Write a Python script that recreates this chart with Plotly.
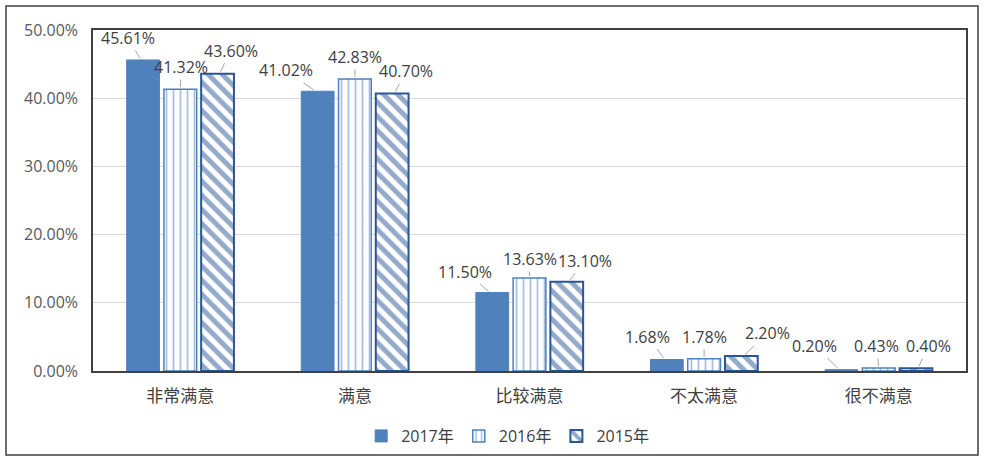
import plotly.graph_objects as go

categorias = ["非常满意", "满意", "比较满意", "不太满意", "很不满意"]
anios = ["2017年", "2016年", "2015年"]
v2017 = [0.4561, 0.4102, 0.1150, 0.0168, 0.0020]
v2016 = [0.4132, 0.4283, 0.1363, 0.0178, 0.0043]
v2015 = [0.4360, 0.4070, 0.1310, 0.0220, 0.0040]
ticks = [0, 0.1, 0.2, 0.3, 0.4, 0.5]

FUENTE = "Open Sans, Noto Sans CJK SC, sans-serif"
AZUL = "#4f81bd"
AZUL_OSC = "#2a5597"

fig = go.Figure()

fig.add_trace(go.Bar(
    x=categorias, y=v2017, name=anios[0],
    marker=dict(color=AZUL, line=dict(color=AZUL, width=1)),
))
fig.add_trace(go.Bar(
    x=categorias, y=v2016, name=anios[1],
    marker=dict(color="white", line=dict(color=AZUL, width=1.5),
                pattern=dict(shape="|", fgcolor=AZUL, bgcolor="white",
                             size=7, solidity=0.25)),
))
fig.add_trace(go.Bar(
    x=categorias, y=v2015, name=anios[2],
    marker=dict(color="white", line=dict(color=AZUL_OSC, width=2),
                pattern=dict(shape="\\", fgcolor=AZUL_OSC, bgcolor="white",
                             size=10, solidity=0.5)),
))

# desplazamientos de las etiquetas (ax, ay) en pixeles
desp = [
    [(-13, -22), (1, -22), (11, -23)],
    [(-30, -21), (0, -22), (12, -22)],
    [(-25, -21), (0, -19), (16, -21)],
    [(-17, -23), (0, -22), (24, -23)],
    [(-25, -24), (-2, -22), (10, -22)],
]
series = [v2017, v2016, v2015]
for i, cat in enumerate(categorias):
    for j, vals in enumerate(series):
        ax, ay = desp[i][j]
        fig.add_annotation(
            x=cat, y=vals[i], xref="x", yref="y",
            xshift=(j - 1) * 39.3,
            text=f"{vals[i] * 100:.2f}%",
            showarrow=True, arrowhead=0, arrowwidth=1,
            arrowcolor="#a6a6a6", ax=ax, ay=ay, standoff=2,
            font=dict(family=FUENTE, size=16, color="#404040"),
        )

fig.update_layout(
    width=982, height=459,
    margin=dict(l=93, r=16, t=30, b=88, autoexpand=False),
    paper_bgcolor="white", plot_bgcolor="white",
    font=dict(family=FUENTE, size=16, color="#595959"),
    barmode="group", bargap=0.36, bargroupgap=0.12,
    showlegend=True,
    legend=dict(orientation="h", x=0.475, xanchor="center",
                yref="container", y=1 - 436 / 459, yanchor="middle",
                font=dict(size=16, color="#404040"),
                bgcolor="rgba(0,0,0,0)", itemwidth=30,
                traceorder="normal"),
    xaxis=dict(showline=True, linecolor="#404040", linewidth=1.5,
               mirror=True, tickfont=dict(size=17, color="#404040"),
               ticks="", ticklabelstandoff=9, automargin=False),
    yaxis=dict(range=[0, 0.5], tickvals=ticks, tickformat=".2%",
               showgrid=True, gridcolor="#d9d9d9", zeroline=False,
               showline=True, linecolor="#404040", linewidth=1.5,
               mirror=True, ticks="", ticklabelstandoff=10,
               automargin=False,
               tickfont=dict(size=16, color="#595959")),
    shapes=[dict(type="rect", xref="paper", yref="paper",
                 x0=-87 / 873, x1=1 + 12 / 873,
                 y0=-84 / 341, y1=1 + 24 / 341,
                 line=dict(color="#404040", width=1.5))],
)

# quitar el margen del body para que la figura empiece en (0, 0)
fig.write_html("out.html", config={"displayModeBar": False},
               post_script="document.body.style.margin='0';")
